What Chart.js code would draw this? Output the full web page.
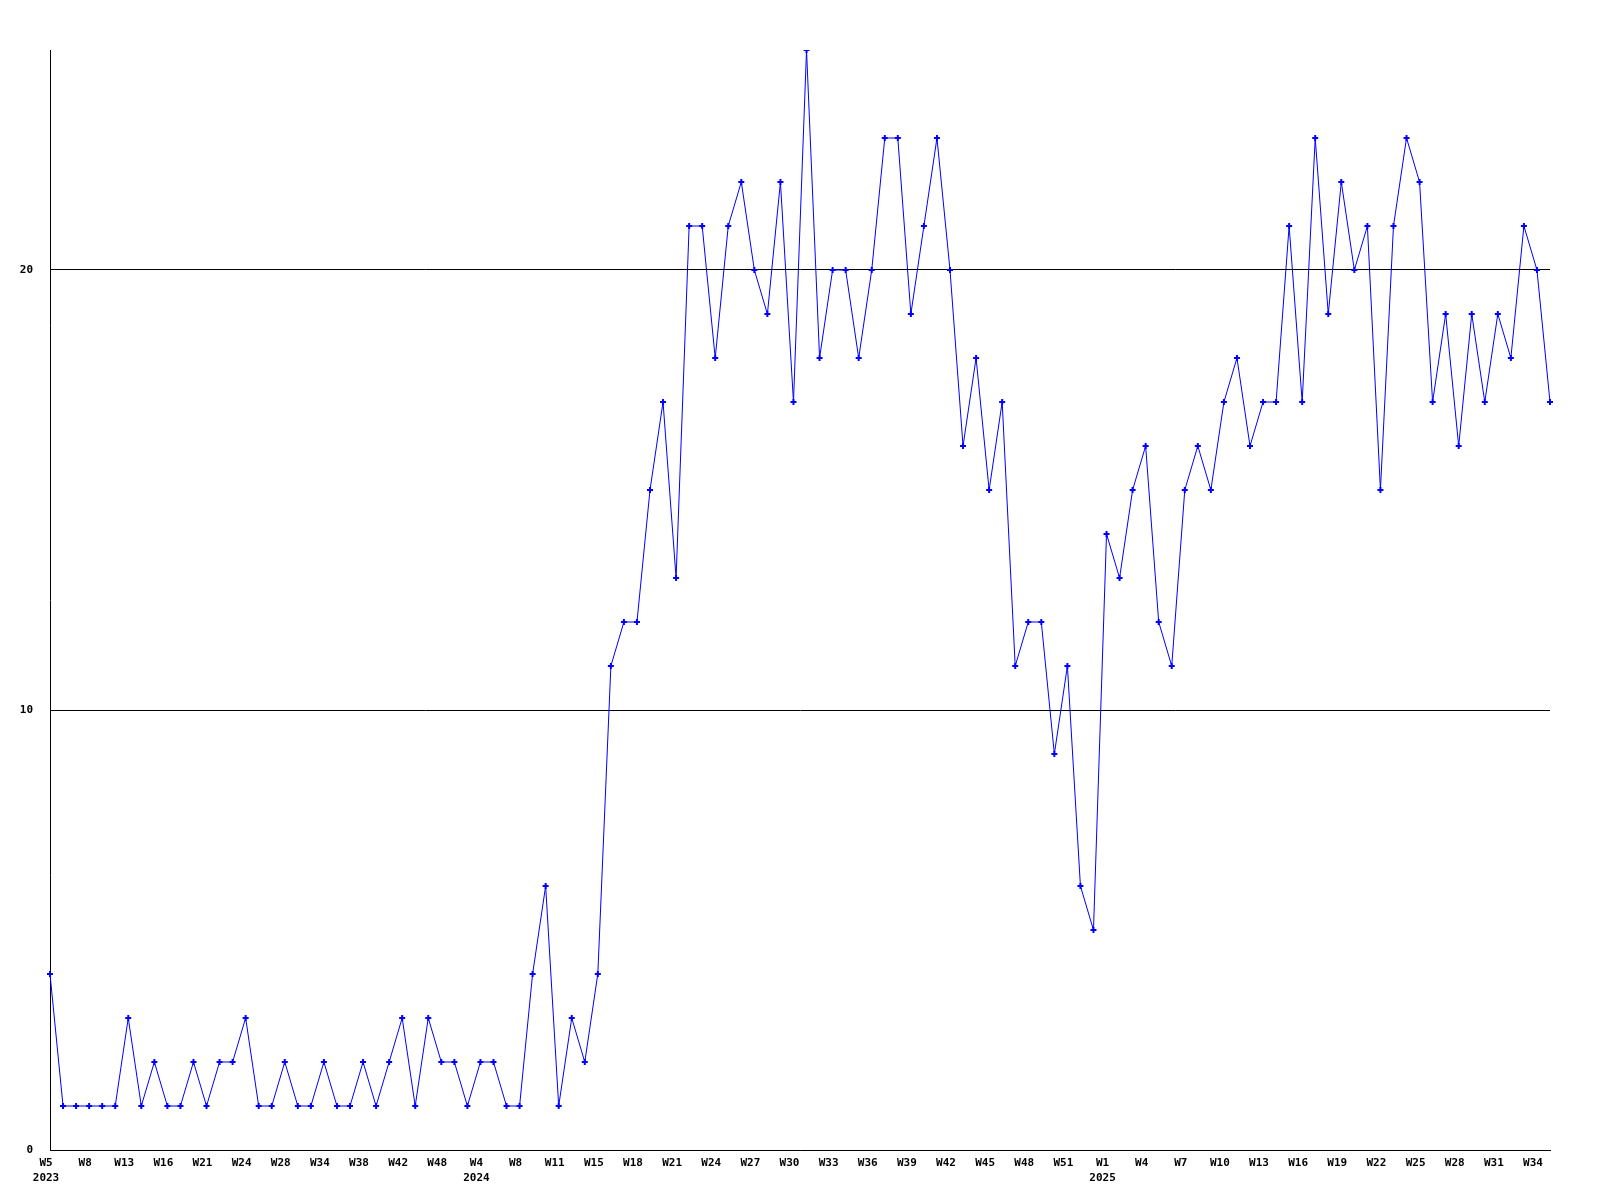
<!DOCTYPE html>
<html>
<head>
<meta charset="utf-8">
<script src="https://cdn.jsdelivr.net/npm/chart.js@4/dist/chart.umd.min.js"></script>
<style>
  html, body { margin: 0; padding: 0; background: #fff; }
  canvas { display: block; }
</style>
</head>
<body>
<canvas id="weekChart" width="1600" height="1200"></canvas>
<script>
// shown tick labels, one every 3rd week point
const tickWeeks = ['W5', 'W8', 'W13', 'W16', 'W21', 'W24', 'W28', 'W34', 'W38', 'W42', 'W48',
    'W4', 'W8', 'W11', 'W15', 'W18', 'W21', 'W24', 'W27', 'W30', 'W33', 'W36', 'W39', 'W42', 'W45', 'W48', 'W51',
    'W1', 'W4', 'W7', 'W10', 'W13', 'W16', 'W19', 'W22', 'W25', 'W28', 'W31', 'W34'];
// year shown under the first week label of each year (index into tickWeeks)
const yearAt = [0, 11, 27];
const yearNames = ['2023', '2024', '2025'];

const values = [4, 1, 1, 1, 1, 1, 3, 1, 2, 1, 1, 2, 1, 2, 2, 3, 1, 1, 2, 1,
    1, 2, 1, 1, 2, 1, 2, 3, 1, 3, 2, 2, 1, 2, 2, 1, 1, 4, 6, 1,
    3, 2, 4, 11, 12, 12, 15, 17, 13, 21, 21, 18, 21, 22, 20, 19, 22, 17, 25, 18,
    20, 20, 18, 20, 23, 23, 19, 21, 23, 20, 16, 18, 15, 17, 11, 12, 12, 9, 11, 6,
    5, 14, 13, 15, 16, 12, 11, 15, 16, 15, 17, 18, 16, 17, 17, 21, 17, 23, 19, 22,
    20, 21, 15, 21, 23, 22, 17, 19, 16, 19, 17, 19, 18, 21, 20, 17];

// category labels: only every 3rd point carries text
const labels = values.map((v, i) => {
    if (i % 3 !== 0) return '';
    const k = i / 3;
    const week = tickWeeks[k] || '';
    const y = yearAt.indexOf(k);
    return y >= 0 ? [week, yearNames[y]] : week;
});

const font = { family: '"DejaVu Sans Mono", "Liberation Mono", monospace', size: 11, weight: 'bold', lineHeight: 1.35 };

const ctx = document.getElementById('weekChart').getContext('2d');
new Chart(ctx, {
    type: 'line',
    data: {
        labels: labels,
        datasets: [{
            data: values,
            borderColor: '#0000ff',
            backgroundColor: '#0000ff',
            borderWidth: 1,
            tension: 0,
            pointStyle: 'cross',
            pointRadius: 3,
            pointBorderWidth: 2,
            pointBorderColor: '#0000ff',
            fill: false
        }]
    },
    plugins: [{
        id: 'whiteBg',
        beforeDraw(chart) {
            const c = chart.ctx;
            c.save();
            c.fillStyle = '#ffffff';
            c.fillRect(0, 0, chart.width, chart.height);
            c.restore();
        }
    }],
    options: {
        responsive: false,
        animation: false,
        layout: {
            padding: { top: 50, right: 50, left: 0, bottom: 0 }
        },
        plugins: {
            legend: { display: false },
            tooltip: { enabled: false }
        },
        scales: {
            x: {
                type: 'category',
                offset: false,
                grid: { display: false, drawTicks: false },
                border: { display: true, color: '#000', width: 1 },
                ticks: {
                    autoSkip: false,
                    maxRotation: 0,
                    minRotation: 0,
                    padding: 6,
                    labelOffset: -4,
                    color: '#000',
                    font: font
                },
                afterFit(axis) { axis.height = 50; }
            },
            y: {
                min: 0,
                max: 25,
                grid: {
                    drawTicks: false,
                    color: '#000',
                    lineWidth: 1
                },
                border: { display: true, color: '#000', width: 1 },
                ticks: {
                    stepSize: 10,
                    padding: 17,
                    color: '#000',
                    font: font
                },
                afterBuildTicks(axis) {
                    axis.ticks = axis.ticks.filter(t => t.value % 10 === 0);
                },
                afterFit(axis) { axis.width = 50; }
            }
        }
    }
});
</script>
</body>
</html>
